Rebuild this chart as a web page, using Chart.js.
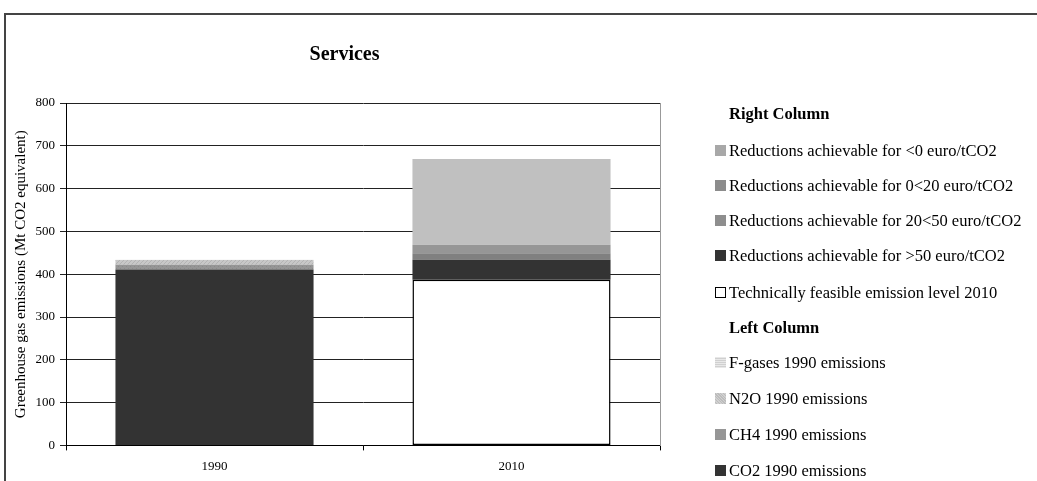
<!DOCTYPE html>
<html>
<head>
<meta charset="utf-8">
<script src="https://cdn.jsdelivr.net/npm/chart.js@4.4.1/dist/chart.umd.min.js"></script>
<style>
  html, body { margin: 0; padding: 0; background: #fff; }
  body { width: 1037px; height: 481px; position: relative; overflow: hidden; font-family: "Liberation Serif", "Times New Roman", serif; }
  #frame { position: absolute; left: 4px; top: 13px; width: 1100px; height: 500px; border: 2px solid #444; box-sizing: border-box; }
  #wrap { position: absolute; left: 0; top: 0; width: 1037px; height: 490px; }
  .lg { position: absolute; left: 715px; font-size: 16.5px; color: #000; white-space: nowrap; line-height: 20px; height: 20px; }
  .lg .sw { position: absolute; left: 0; top: 4px; width: 11px; height: 11px; box-sizing: border-box; }
  .lg .tx { position: absolute; left: 14px; top: 0; }
  .lg.hd .tx { font-weight: bold; }
</style>
</head>
<body>
<div id="frame"></div>
<div id="wrap"><canvas id="c" width="1037" height="490"></canvas></div>
<div id="legend"></div>
<script>
// ---- data ----
const categories = ['1990', '2010'];
const co2_1990 = [411, null];
const ch4_1990 = [11, null];
const n2o_1990 = [11, null];
const fgases_1990 = [1, null];
const technical_2010 = [null, 387];
const red_over50 = [null, 47];
const red_20_50 = [null, 15];
const red_0_20 = [null, 20];
const red_below0 = [null, 200];
const yTicks = [0, 100, 200, 300, 400, 500, 600, 700, 800];

function pattern(bg, fg, kind) {
  const p = document.createElement('canvas');
  p.width = 4; p.height = 4;
  const x = p.getContext('2d');
  x.fillStyle = bg; x.fillRect(0, 0, 4, 4);
  x.fillStyle = fg;
  if (kind === 'diag') { for (let i = 0; i < 4; i++) x.fillRect(i, 3 - i, 1, 1); }
  else if (kind === 'dots') { x.fillRect(0, 0, 1, 1); x.fillRect(2, 2, 1, 1); }
  else if (kind === 'hlines') { x.fillRect(0, 0, 4, 1); x.fillRect(0, 2, 4, 1); }
  return x.createPattern(p, 'repeat');
}
const ctx = document.getElementById('c').getContext('2d');
const fillCO2 = '#333333';
const fillCH4 = pattern('#969696', '#8a8a8a', 'dots');
const fillN2O = pattern('#c8c8c8', '#b4b4b4', 'diag');
const fillF = pattern('#e6e6e6', '#d4d4d4', 'hlines');

const datasets = [
  { label: 'CO2 1990 emissions', data: co2_1990, backgroundColor: fillCO2 },
  { label: 'CH4 1990 emissions', data: ch4_1990, backgroundColor: fillCH4 },
  { label: 'N2O 1990 emissions', data: n2o_1990, backgroundColor: fillN2O },
  { label: 'F-gases 1990 emissions', data: fgases_1990, backgroundColor: fillF },
  { label: 'Technically feasible emission level 2010', data: technical_2010, backgroundColor: '#ffffff', borderColor: '#000', borderWidth: 1.5, borderSkipped: false },
  { label: 'Reductions achievable for >50 euro/tCO2', data: red_over50, backgroundColor: '#333333' },
  { label: 'Reductions achievable for 20<50 euro/tCO2', data: red_20_50, backgroundColor: '#808080' },
  { label: 'Reductions achievable for 0<20 euro/tCO2', data: red_0_20, backgroundColor: '#969696' },
  { label: 'Reductions achievable for <0 euro/tCO2', data: red_below0, backgroundColor: '#c0c0c0' }
].map(d => Object.assign({ stack: 's', barPercentage: 0.667, categoryPercentage: 1.0 }, d));

new Chart(ctx, {
  type: 'bar',
  data: { labels: categories, datasets },
  options: {
    responsive: false,
    animation: false,
    layout: { padding: { left: 11, right: 359, top: 20, bottom: 8 } },
    plugins: {
      legend: { display: false },
      tooltip: { enabled: false },
      title: {
        display: true, text: 'Services', color: '#000',
        font: { family: 'Liberation Serif', size: 20, weight: 'bold' },
        padding: { top: 23, bottom: 36 }
      }
    },
    scales: {
      x: {
        stacked: true,
        offset: true,
        grid: { offset: true, drawOnChartArea: false, drawTicks: true, tickLength: 5, color: '#000' },
        border: { display: true, color: '#000', width: 1 },
        ticks: { color: '#000', padding: 8, font: { family: 'Liberation Serif', size: 13 } }
      },
      y: {
        stacked: true,
        min: 0, max: 800,
        afterBuildTicks: (s) => { s.ticks = yTicks.map(v => ({ value: v })); },
        afterFit: (s) => { s.width = 55; },
        grid: { color: '#222', lineWidth: 1, tickLength: 6 },
        border: { display: true, color: '#000', width: 1 },
        ticks: { color: '#000', padding: 5, font: { family: 'Liberation Serif', size: 13 } },
        title: {
          display: true, text: 'Greenhouse gas emissions (Mt CO2 equivalent)', color: '#000',
          font: { family: 'Liberation Serif', size: 15 }, padding: { top: 1, bottom: 1 }
        }
      },
      y2: {
        position: 'right',
        display: true,
        afterFit: (s) => { s.width = 18; },
        grid: { display: false, drawTicks: false },
        border: { display: true, color: '#999', width: 1 },
        ticks: { display: false }
      }
    }
  }
});

// ---- HTML legend ----
const legendItems = [
  { text: 'Right Column', y: 114, head: true },
  { text: 'Reductions achievable for <0 euro/tCO2', y: 151, sw: '#a8a8a8' },
  { text: 'Reductions achievable for 0<20 euro/tCO2', y: 186, sw: '#8c8c8c' },
  { text: 'Reductions achievable for 20<50 euro/tCO2', y: 221, sw: '#8e8e8e' },
  { text: 'Reductions achievable for >50 euro/tCO2', y: 256, sw: '#333333' },
  { text: 'Technically feasible emission level 2010', y: 293, sw: '#ffffff', border: true },
  { text: 'Left Column', y: 328, head: true },
  { text: 'F-gases 1990 emissions', y: 363, sw: 'repeating-linear-gradient(0deg,#e8e8e8 0 1px,#d0d0d0 1px 2px)' },
  { text: 'N2O 1990 emissions', y: 399, sw: 'repeating-linear-gradient(45deg,#d0d0d0 0 1px,#bcbcbc 1px 2px)' },
  { text: 'CH4 1990 emissions', y: 435, sw: '#969696' },
  { text: 'CO2 1990 emissions', y: 471, sw: '#333333' }
];
const lg = document.getElementById('legend');
legendItems.forEach(it => {
  const d = document.createElement('div');
  d.className = 'lg' + (it.head ? ' hd' : '');
  d.style.top = (it.y - 10) + 'px';
  if (!it.head) {
    const s = document.createElement('div');
    s.className = 'sw';
    s.style.background = it.sw;
    if (it.border) s.style.border = '1.5px solid #000';
    d.appendChild(s);
  }
  const t = document.createElement('span');
  t.className = 'tx';
  t.textContent = it.text;
  d.appendChild(t);
  lg.appendChild(d);
});
</script>
</body>
</html>
